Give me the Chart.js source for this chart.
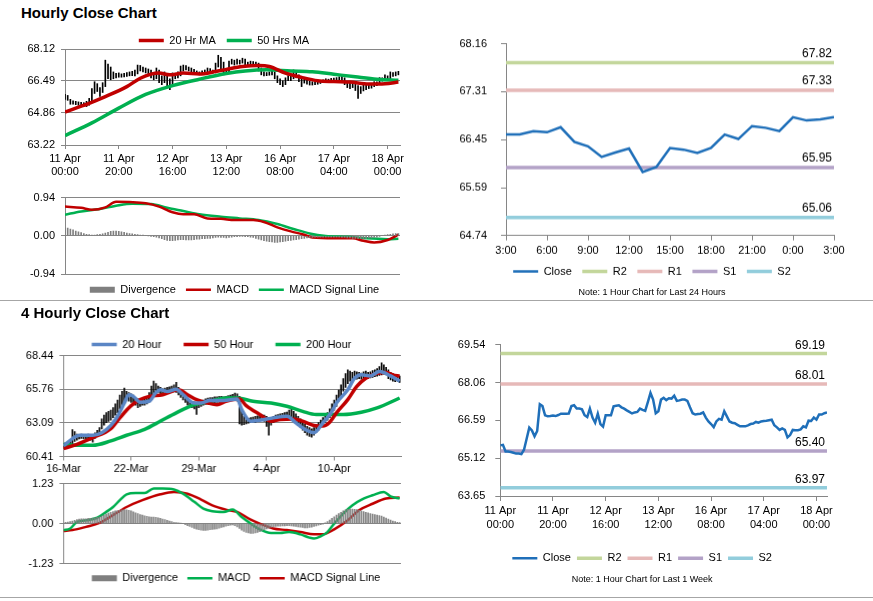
<!DOCTYPE html>
<html><head><meta charset="utf-8">
<script src="https://cdn.jsdelivr.net/npm/chart.js@4.4.1/dist/chart.umd.min.js"></script>
<style>
html,body{margin:0;padding:0;background:#fff;}
body{width:873px;height:601px;position:relative;overflow:hidden;font-family:'Liberation Sans',Arial,sans-serif;}
.box{position:absolute;}
.title{position:absolute;left:21px;font-weight:bold;font-size:15px;line-height:18px;color:#000;z-index:5;white-space:nowrap;}
.sep{position:absolute;left:0;width:873px;height:1px;background:#a6a6a6;}
</style></head><body>
<div class="title" style="top:4px">Hourly Close Chart</div>
<div class="title" style="top:304px">4 Hourly Close Chart</div>
<div class="sep" style="top:300px"></div>
<div class="sep" style="top:597px"></div>
<div class="box" style="left:0;top:24px;width:421px;height:160px"><canvas id="cA"></canvas></div>
<div class="box" style="left:0;top:185.1px;width:442px;height:120.2px"><canvas id="cB"></canvas></div>
<div class="box" style="left:430px;top:23.4px;width:419px;height:273.9px"><canvas id="cC"></canvas></div>
<div class="box" style="left:0;top:316.5px;width:416.7px;height:161.5px"><canvas id="cE"></canvas></div>
<div class="box" style="left:0;top:470.7px;width:445.7px;height:122.8px"><canvas id="cD"></canvas></div>
<div class="box" style="left:430px;top:327.7px;width:443px;height:256.6px"><canvas id="cF"></canvas></div>
<script>
// ---------------- DATA ----------------
const HOURLY_TICK_IDX = [0, 20, 40, 60, 80, 100, 120];
const HOURLY_TICK_LABELS = [['11 Apr','00:00'],['11 Apr','20:00'],['12 Apr','16:00'],['13 Apr','12:00'],['16 Apr','08:00'],['17 Apr','04:00'],['18 Apr','00:00']];
const H4_TICK_IDX = [0, 30, 60, 90, 120];
const H4_TICK_LABELS = ['16-Mar','22-Mar','29-Mar','4-Apr','10-Apr'];
const DAY_HOURS = ['3:00','4:00','5:00','6:00','7:00','8:00','9:00','10:00','11:00','12:00','13:00','14:00','15:00','16:00','17:00','18:00','19:00','20:00','21:00','22:00','23:00','0:00','1:00','2:00','3:00'];
const DAY_TICK_IDX = [0, 3, 6, 9, 12, 15, 18, 21, 24];

const H_PRICE_TICKS = [63.22, 64.86, 66.49, 68.12];
const H_MACD_TICKS = [-0.94, 0, 0.94];
const DAY_TICKS = [64.74, 65.59, 66.45, 67.31, 68.16];
const H4_PRICE_TICKS = [60.41, 63.09, 65.76, 68.44];
const H4_MACD_TICKS = [-1.23, 0, 1.23];
const WEEK_TICKS = [63.65, 65.12, 66.59, 68.06, 69.54];

const LEVEL_NAMES = ['R2', 'R1', 'S1', 'S2'];
const DAY_LEVELS = [67.82, 67.33, 65.95, 65.06];
const WEEK_LEVELS = [69.19, 68.01, 65.40, 63.97];

// hourly close, last week (index = hour bar)
const HOURLY_CLOSE = [65.62,65.64,65.38,65.38,65.36,65.33,65.30,65.30,65.28,65.45,
65.88,66.31,66.20,65.97,66.18,67.22,67.15,66.79,66.75,66.76,
66.78,66.76,66.80,66.85,66.85,66.85,66.86,67.15,67.18,67.05,
67.05,67.02,66.79,66.72,67.05,66.70,66.50,66.85,66.45,66.35,
66.79,66.79,66.79,67.14,67.16,67.18,67.10,67.05,66.98,66.92,
66.86,66.90,66.92,67.05,67.00,66.96,67.30,67.66,67.40,66.87,
66.95,67.40,67.47,67.38,67.45,67.44,67.55,67.35,67.37,67.40,
67.40,67.35,67.10,66.87,66.82,66.84,66.85,66.90,66.70,66.55,
66.45,66.33,66.55,66.65,66.62,66.95,66.75,66.55,66.50,66.48,
66.42,66.36,66.36,66.36,66.40,66.45,66.47,66.53,66.50,66.55,
66.57,66.58,66.60,66.62,66.40,66.32,66.22,66.28,66.22,65.93,
66.02,66.22,66.21,66.21,66.24,66.36,66.32,66.58,66.57,66.70,
66.62,66.82,66.82,66.87,66.90];
const HOURLY_HIGH = [65.80,65.75,65.55,65.48,65.45,65.42,65.40,65.38,65.45,65.60,
66.10,66.45,66.35,66.15,66.40,67.55,67.35,67.20,66.95,66.88,
66.90,66.85,66.88,66.92,66.95,66.98,67.05,67.30,67.28,67.20,
67.15,67.10,67.05,66.90,67.15,67.05,66.75,66.95,66.85,66.60,
66.90,66.88,66.95,67.25,67.30,67.28,67.20,67.15,67.08,67.00,
66.95,67.00,67.05,67.15,67.12,67.05,67.40,67.80,67.70,67.45,
67.10,67.50,67.60,67.55,67.60,67.55,67.65,67.60,67.45,67.50,
67.48,67.45,67.40,67.15,66.95,66.92,66.95,67.00,66.95,66.75,
66.60,66.50,66.65,66.75,66.72,67.05,66.98,66.80,66.62,66.58,
66.52,66.48,66.45,66.45,66.48,66.52,66.55,66.60,66.58,66.62,
66.64,66.66,66.70,66.72,66.65,66.45,66.38,66.36,66.32,66.25,
66.20,66.30,66.30,66.30,66.35,66.45,66.45,66.66,66.65,66.80,
66.75,66.95,66.92,66.95,66.98];
const HOURLY_LOW = [65.55,65.50,65.30,65.30,65.28,65.25,65.22,65.20,65.18,65.25,
65.45,65.85,65.95,65.70,65.90,66.20,66.60,66.55,66.60,66.65,
66.68,66.68,66.70,66.72,66.75,66.76,66.75,66.85,67.00,66.95,
66.90,66.85,66.65,66.55,66.60,66.40,66.30,66.40,66.25,66.05,
66.30,66.60,66.65,66.75,67.00,67.05,67.00,66.95,66.90,66.85,
66.80,66.82,66.85,66.90,66.92,66.88,66.90,67.20,67.00,66.80,
66.85,66.95,67.35,67.30,67.35,67.35,67.40,67.30,67.28,67.30,
67.32,67.25,67.00,66.80,66.75,66.76,66.78,66.80,66.60,66.40,
66.30,66.20,66.30,66.50,66.50,66.60,66.65,66.45,66.20,66.38,
66.32,66.28,66.28,66.30,66.32,66.36,66.40,66.44,66.42,66.45,
66.48,66.50,66.50,66.48,66.30,66.15,66.10,66.15,66.00,65.60,
65.85,65.98,66.05,66.10,66.12,66.20,66.25,66.30,66.48,66.52,
66.55,66.60,66.72,66.75,66.80];
// moving averages read as [bar index, value]
const HOURLY_MA20 = [[0,64.9],[5,65.15],[9,65.35],[15,65.69],[23,66.2],[28,66.63],[32,66.84],[35,66.89],[39,66.8],[44,66.89],[50,66.84],[56,66.97],[60,67.08],[66,67.23],[72,67.28],[76,67.23],[82,66.89],[88,66.67],[94,66.5],[100,66.46],[106,66.43],[113,66.33],[119,66.35],[124,66.43]];
const HOURLY_MA50 = [[0,63.7],[10,64.35],[20,65.1],[30,65.8],[40,66.25],[50,66.58],[60,66.87],[67,67.0],[75,67.06],[84,67.0],[92,66.96],[100,66.83],[108,66.7],[116,66.58],[124,66.52]];
const HOURLY_MACD = [[0,0.72],[6,0.69],[10,0.64],[15,0.70],[19,0.84],[24,0.83],[30,0.80],[35,0.72],[40,0.58],[44,0.53],[48,0.53],[53,0.43],[58,0.42],[63,0.39],[70,0.39],[74,0.34],[79,0.21],[84,0.11],[89,0.03],[92,-0.04],[100,-0.06],[107,-0.06],[111,-0.12],[115,-0.16],[120,-0.10],[124,0.03]];
const HOURLY_SIGNAL = [[0,0.52],[6,0.60],[13,0.66],[19,0.74],[25,0.79],[32,0.78],[38,0.69],[44,0.61],[50,0.53],[58,0.47],[65,0.43],[72,0.39],[79,0.29],[85,0.17],[91,0.06],[97,0.0],[105,-0.02],[112,-0.06],[120,-0.08],[124,-0.07]];
const HOURLY_DIV = [0.20,0.19,0.17,0.15,0.12,0.10,0.08,0.06,0.04,0.03,
0.02,0.02,0.03,0.04,0.05,0.07,0.09,0.11,0.12,0.12,
0.11,0.10,0.09,0.07,0.06,0.05,0.04,0.03,0.02,0.02,
0.01,0.00,-0.01,-0.02,-0.03,-0.05,-0.07,-0.09,-0.11,-0.12,
-0.12,-0.11,-0.10,-0.09,-0.09,-0.10,-0.10,-0.10,-0.09,-0.08,
-0.08,-0.07,-0.07,-0.06,-0.06,-0.05,-0.04,-0.03,-0.04,-0.04,
-0.05,-0.04,-0.03,-0.02,-0.02,-0.01,-0.01,-0.02,-0.02,-0.03,
-0.04,-0.06,-0.08,-0.10,-0.12,-0.13,-0.14,-0.15,-0.16,-0.16,
-0.15,-0.14,-0.13,-0.12,-0.11,-0.10,-0.09,-0.08,-0.07,-0.06,
-0.05,-0.04,-0.04,-0.03,-0.03,-0.03,-0.03,-0.03,-0.03,-0.03,
-0.03,-0.03,-0.03,-0.04,-0.04,-0.05,-0.05,-0.06,-0.06,-0.07,
-0.07,-0.06,-0.06,-0.05,-0.05,-0.04,-0.03,-0.01,0.01,0.02,
0.03,0.04,0.05,0.06,0.06];

// last 24 hours close (3:00 .. 3:00)
const DAY_CLOSE = [66.54,66.54,66.60,66.58,66.67,66.41,66.33,66.14,66.22,66.29,65.87,65.96,66.30,66.27,66.21,66.30,66.54,66.46,66.69,66.66,66.60,66.85,66.79,66.81,66.85];

// 4 hourly bars
const H4_HIGH = [61.45,61.50,61.55,61.75,62.55,62.40,62.20,62.15,62.20,62.10,
62.15,62.20,62.10,62.05,62.30,62.50,62.70,63.40,63.70,63.90,
64.00,64.10,64.30,64.60,64.90,65.30,65.60,65.85,65.60,65.50,
65.40,65.30,65.10,65.00,64.90,65.00,65.10,65.20,65.50,66.00,
66.40,66.20,66.00,65.90,65.80,65.85,65.90,65.95,66.00,66.10,
66.30,65.90,65.60,65.40,65.20,65.00,64.90,64.80,64.75,64.70,
64.80,64.85,64.90,65.00,65.05,65.10,65.10,65.15,65.15,65.20,
65.20,65.15,65.20,65.25,65.30,65.35,65.45,65.40,65.20,64.00,
63.60,63.50,63.45,63.50,63.55,63.60,63.65,63.70,63.75,63.70,
63.60,63.40,63.50,63.60,63.70,63.75,63.80,63.85,63.90,63.95,
64.10,64.20,64.00,63.80,63.60,63.40,63.20,63.00,62.80,62.70,
62.60,62.70,62.90,63.10,63.30,63.50,63.70,63.90,64.20,64.60,
64.90,65.30,65.70,66.10,66.60,67.00,67.30,67.20,67.10,67.20,
67.15,67.10,67.05,67.15,67.20,67.10,67.15,67.25,67.30,67.40,
67.55,67.85,67.70,67.50,67.30,67.10,67.00,66.90,66.85,66.80];
const H4_LOW = [61.05,61.10,61.15,61.20,61.40,61.60,61.70,61.80,61.85,61.80,
61.75,61.80,61.70,61.55,61.85,62.00,62.10,62.60,62.90,63.10,
63.20,63.30,63.50,63.70,63.90,64.20,64.40,64.70,64.90,64.80,
64.70,64.60,64.50,64.30,64.40,64.50,64.50,64.60,64.80,65.10,
65.30,65.40,65.50,65.40,65.30,65.35,65.40,65.45,65.50,65.55,
65.50,65.30,65.10,64.90,64.70,64.50,64.40,64.30,64.20,63.75,
64.30,64.40,64.50,64.55,64.60,64.65,64.60,64.65,64.70,64.70,
64.75,64.70,64.75,64.80,64.85,64.90,64.85,64.80,63.00,62.90,
62.95,63.00,63.05,63.10,63.15,63.10,63.20,63.20,63.30,63.20,
62.80,62.10,62.90,63.10,63.20,63.25,63.30,63.35,63.40,63.35,
63.40,63.45,63.30,63.10,62.90,62.70,62.50,62.30,62.10,62.00,
61.95,62.10,62.30,62.50,62.70,62.90,63.10,63.30,63.50,63.80,
64.10,64.40,64.80,65.20,65.60,65.90,66.20,66.40,66.50,66.60,
66.55,66.60,66.55,66.60,66.65,66.60,66.65,66.70,66.75,66.80,
66.85,66.90,66.95,66.90,66.60,66.50,66.40,66.35,66.40,66.30];
const H4_MA20 = [[0,61.25],[4,61.83],[7,62.1],[13,62.1],[17,62.3],[21,62.88],[24,63.61],[27,64.66],[29,65.32],[31,65.19],[34,64.72],[38,64.8],[41,65.5],[43,65.71],[46,65.58],[50,65.76],[53,65.32],[58,64.66],[61,64.66],[65,64.87],[71,64.87],[77,64.98],[79,64.14],[83,63.22],[87,63.3],[93,63.48],[99,63.61],[103,63.09],[107,62.57],[111,62.3],[115,63.09],[119,64.0],[121,64.66],[126,65.71],[129,66.63],[132,66.9],[136,66.82],[140,67.16],[145,66.82],[149,66.4]];
const H4_MA50 = [[0,61.04],[6,61.38],[13,61.91],[21,62.62],[25,63.48],[30,64.45],[34,64.93],[38,65.19],[44,65.32],[51,65.71],[55,65.32],[59,64.93],[64,64.66],[68,64.53],[72,64.8],[78,64.98],[81,64.45],[87,63.75],[92,63.22],[96,63.35],[102,63.4],[106,63.22],[111,62.88],[115,62.83],[118,63.14],[121,63.88],[126,64.93],[130,65.98],[134,66.63],[139,67.03],[143,67.08],[146,66.9],[149,66.8]];
const H4_MA200 = [[0,61.38],[6,61.3],[13,61.3],[21,61.65],[28,62.1],[36,62.57],[43,63.22],[50,63.88],[58,64.53],[65,64.8],[72,65.06],[77,65.06],[84,64.8],[92,64.66],[99,64.4],[106,64.0],[112,63.75],[117,63.75],[124,63.75],[132,63.93],[139,64.27],[149,65.06]];
const H4_MACD = [[0,-0.2],[3,-0.15],[6,0.05],[10,0.1],[15,0.18],[19,0.36],[22,0.51],[25,0.72],[28,0.9],[32,0.94],[36,0.94],[40,1.08],[44,1.08],[49,1.05],[53,0.92],[58,0.67],[62,0.46],[66,0.38],[71,0.36],[75,0.43],[79,0.2],[83,0.0],[87,-0.18],[92,-0.29],[96,-0.29],[100,-0.26],[105,-0.33],[109,-0.43],[111,-0.46],[114,-0.39],[117,-0.26],[120,0.0],[124,0.31],[128,0.56],[133,0.77],[137,0.87],[142,0.97],[145,0.84],[149,0.77]];
const H4_SIGNAL = [[0,-0.23],[4,-0.2],[10,-0.1],[16,0.02],[22,0.26],[28,0.51],[35,0.72],[43,0.9],[49,0.97],[55,0.92],[61,0.74],[66,0.56],[72,0.43],[77,0.36],[83,0.12],[87,0.0],[93,-0.15],[99,-0.2],[105,-0.26],[111,-0.33],[115,-0.33],[120,-0.18],[126,0.1],[131,0.41],[137,0.61],[143,0.77],[149,0.8]];
const H4_DIV = [0.03,0.04,0.05,0.06,0.08,0.10,0.12,0.14,0.15,0.15,
0.15,0.16,0.16,0.17,0.18,0.19,0.21,0.23,0.26,0.29,
0.32,0.35,0.37,0.39,0.40,0.41,0.42,0.43,0.42,0.41,
0.39,0.36,0.33,0.31,0.28,0.26,0.24,0.22,0.21,0.20,
0.20,0.19,0.18,0.16,0.14,0.12,0.10,0.08,0.06,0.04,
0.03,0.02,0.01,0.00,-0.03,-0.06,-0.09,-0.12,-0.15,-0.17,
-0.19,-0.20,-0.21,-0.21,-0.20,-0.19,-0.18,-0.17,-0.16,-0.14,
-0.12,-0.10,-0.08,-0.06,-0.05,-0.04,-0.06,-0.10,-0.15,-0.20,
-0.24,-0.27,-0.29,-0.30,-0.30,-0.29,-0.27,-0.25,-0.22,-0.19,
-0.16,-0.14,-0.12,-0.10,-0.09,-0.08,-0.08,-0.07,-0.07,-0.06,
-0.06,-0.07,-0.08,-0.09,-0.10,-0.11,-0.12,-0.13,-0.13,-0.12,
-0.11,-0.09,-0.07,-0.05,-0.03,-0.01,0.02,0.06,0.11,0.16,
0.21,0.26,0.31,0.35,0.39,0.42,0.44,0.45,0.45,0.44,
0.43,0.41,0.39,0.37,0.35,0.33,0.31,0.29,0.28,0.26,
0.25,0.23,0.20,0.17,0.14,0.11,0.08,0.06,0.04,0.03];

// ---------------- STYLE / HELPERS ----------------
const FAM = "'Liberation Sans', Arial, sans-serif";
Chart.defaults.font.family = FAM;
Chart.defaults.font.size = 11;
Chart.defaults.color = '#000';
const GRID = '#868686';
const RED = '#c00000', GREEN = '#00b050', BLUE4 = '#5b86c5', CLOSE = '#1f6fb9', DIVC = '#7f7f7f';
const LEVEL_COLORS = ['#c3d69b', '#e6b9b8', '#b3a2c7', '#92cddc'];

const pairs = arr => arr.map(p => ({ x: p[0], y: p[1] }));
const byIndex = arr => arr.map((v, i) => ({ x: i, y: v }));
const hiLo = (hi, lo) => hi.map((h, i) => ({ x: i, y: [lo[i], h] }));

function lineDs(label, data, color, width, smooth) {
  return { type: 'line', label, data, borderColor: color, backgroundColor: color, borderWidth: width,
    pointRadius: 0, pointHoverRadius: 0, fill: false, tension: smooth ? 0.4 : 0,
    cubicInterpolationMode: smooth ? 'monotone' : 'default' };
}
function barDs(label, data, color, noLegend) {
  return { type: 'bar', label, data, backgroundColor: color, borderWidth: 0, barThickness: 1, grouped: false, noLegend: !!noLegend };
}
function legend(pos, pad, maxH) {
  return { display: true, position: pos, maxHeight: maxH,
    labels: { usePointStyle: true, pointStyleWidth: 25, boxHeight: 6, padding: pad, color: '#000', font: { size: 11, family: FAM },
      generateLabels(chart) {
        return chart.data.datasets.map((ds, i) => ({ ds, i })).filter(o => !o.ds.noLegend).map(({ ds, i }) => ({
          text: ds.label, datasetIndex: i, hidden: false, fontColor: '#000', rotation: 0,
          fillStyle: ds.type === 'bar' ? ds.backgroundColor : ds.borderColor,
          strokeStyle: ds.type === 'bar' ? ds.backgroundColor : ds.borderColor,
          lineWidth: ds.type === 'bar' ? 0 : ds.borderWidth,
          pointStyle: ds.type === 'bar' ? 'rect' : 'line'
        }));
      } } };
}
function yAxis(ticks, w, tl, pad, gridOn) {
  return { type: 'linear', position: 'left', min: ticks[0], max: ticks[ticks.length - 1],
    afterBuildTicks: s => { s.ticks = ticks.map(v => ({ value: v })); },
    afterFit: s => { s.width = w; },
    ticks: { callback: v => Number(v).toFixed(2), padding: pad, color: '#000', font: { size: 11 } },
    grid: { color: GRID, lineWidth: 1, drawOnChartArea: gridOn, drawTicks: true, tickLength: tl },
    border: { color: GRID, width: 1 } };
}
// invisible right-hand spacer so the legend centres like the original
function spacer(w) {
  return { type: 'linear', position: 'right', display: true, afterFit: s => { s.width = w; },
    ticks: { display: false }, grid: { display: false }, border: { display: false } };
}
function xAxis(max, tickIdx, labels, h, tl, pad, show) {
  return { type: 'linear', min: 0, max, offset: false, display: show,
    afterBuildTicks: s => { s.ticks = tickIdx.map(v => ({ value: v })); },
    afterFit: s => { s.height = h; },
    ticks: { autoSkip: false, maxRotation: 0, minRotation: 0, padding: pad, color: '#000', font: { size: 11 },
      callback: (v, i) => labels[i] },
    grid: { color: GRID, lineWidth: 1, drawOnChartArea: false, drawTicks: true, tickLength: tl, offset: false },
    border: { color: GRID, width: 1 } };
}
const levelLabels = { id: 'levelLabels',
  afterDatasetsDraw(chart, args, opts) {
    const { ctx, chartArea, scales } = chart;
    ctx.save();
    ctx.font = '12px ' + FAM; ctx.fillStyle = '#000'; ctx.textAlign = 'right'; ctx.textBaseline = 'middle';
    chart.data.datasets.forEach(ds => {
      if (ds.levelValue === undefined) return;
      const py = scales.y.getPixelForValue(ds.levelValue);
      ctx.fillText(ds.levelValue.toFixed(2), chartArea.right - 2, py - opts.dy);
    });
    ctx.restore();
  } };
function base(padding, plugins, scales) {
  return { responsive: true, maintainAspectRatio: false, animation: false, events: [],
    layout: { padding }, plugins: Object.assign({ tooltip: { enabled: false } }, plugins), scales };
}
function levelSets(levels, lastIdx) {
  return levels.map((v, k) => Object.assign(lineDs(LEVEL_NAMES[k], [{ x: 0, y: v }, { x: lastIdx, y: v }], LEVEL_COLORS[k], 3.5, false), { levelValue: v }));
}

// ---------------- A: hourly price ----------------
new Chart(document.getElementById('cA'), {
  type: 'line',
  data: { datasets: [
    lineDs('20 Hr MA', pairs(HOURLY_MA20), RED, 3.5, true),
    lineDs('50 Hrs MA', pairs(HOURLY_MA50), GREEN, 3.5, true),
    barDs('High-Low', hiLo(HOURLY_HIGH, HOURLY_LOW), '#000', true)
  ] },
  options: base({ left: 27, right: 0, top: 0, bottom: 0 }, { legend: legend('top', 11, 25) }, {
    x: xAxis(124.6, HOURLY_TICK_IDX, HOURLY_TICK_LABELS, 39, 4, 3, true),
    y: yAxis(H_PRICE_TICKS, 38, 4, 6, true),
    yR: spacer(21)
  })
});

// ---------------- B: hourly MACD ----------------
new Chart(document.getElementById('cB'), {
  type: 'line',
  data: { datasets: [
    barDs('Divergence', byIndex(HOURLY_DIV), DIVC, false),
    lineDs('MACD', pairs(HOURLY_MACD), RED, 2.5, true),
    lineDs('MACD Signal Line', pairs(HOURLY_SIGNAL), GREEN, 2.5, true)
  ] },
  options: base({ left: 27, right: 0, top: 0, bottom: 0 }, { legend: legend('bottom', 10) }, {
    x: xAxis(124.6, HOURLY_TICK_IDX, HOURLY_TICK_LABELS, 0, 0, 0, false),
    y: yAxis(H_MACD_TICKS, 38, 4, 6, true),
    yR: spacer(42)
  })
});

// ---------------- C: last 24 hours ----------------
new Chart(document.getElementById('cC'), {
  type: 'line',
  data: { datasets: [lineDs('Close', byIndex(DAY_CLOSE), CLOSE, 2.5, false)].concat(levelSets(DAY_LEVELS, DAY_HOURS.length - 1)) },
  plugins: [levelLabels],
  options: base({ left: 25, right: 0, top: 0, bottom: 0 }, {
    legend: legend('bottom', 10.5),
    subtitle: { display: true, position: 'bottom', text: 'Note: 1 Hour Chart for Last 24 Hours', color: '#000', font: { size: 9, family: FAM }, padding: { top: 0, bottom: 0 } },
    levelLabels: { dy: 9 }
  }, {
    x: xAxis(DAY_HOURS.length - 1, DAY_TICK_IDX, DAY_TICK_IDX.map(i => DAY_HOURS[i]), 20, 5, 4, true),
    y: yAxis(DAY_TICKS, 51, 5, 14, false),
    yR: spacer(15)
  })
});

// ---------------- E: 4 hourly price ----------------
new Chart(document.getElementById('cE'), {
  type: 'line',
  data: { datasets: [
    lineDs('20 Hour', pairs(H4_MA20), BLUE4, 3.5, true),
    lineDs('50 Hour', pairs(H4_MA50), RED, 3.5, true),
    lineDs('200 Hour', pairs(H4_MA200), GREEN, 3.5, true),
    barDs('High-Low', hiLo(H4_HIGH, H4_LOW), '#000', true)
  ] },
  options: base({ left: 25.3, right: 0, top: 0, bottom: 0 }, { legend: legend('top', 22, 38.5) }, {
    x: xAxis(149.6, H4_TICK_IDX, H4_TICK_LABELS, 22, 4, 2, true),
    y: yAxis(H4_PRICE_TICKS, 38, 4, 6, true),
    yR: spacer(16.7)
  })
});

// ---------------- D: 4 hourly MACD ----------------
new Chart(document.getElementById('cD'), {
  type: 'line',
  data: { datasets: [
    barDs('Divergence', byIndex(H4_DIV), DIVC, false),
    lineDs('MACD', pairs(H4_MACD), GREEN, 2.5, true),
    lineDs('MACD Signal Line', pairs(H4_SIGNAL), RED, 2.5, true)
  ] },
  options: base({ left: 25.3, right: 0, top: 0, bottom: 0 }, { legend: legend('bottom', 9.2) }, {
    x: xAxis(149.6, H4_TICK_IDX, H4_TICK_LABELS, 0, 0, 0, false),
    y: yAxis(H4_MACD_TICKS, 38, 4, 6, true),
    yR: spacer(45.7)
  })
});

// ---------------- F: last week hourly ----------------
new Chart(document.getElementById('cF'), {
  type: 'line',
  data: { datasets: [lineDs('Close', byIndex(HOURLY_CLOSE), CLOSE, 2.5, false)].concat(levelSets(WEEK_LEVELS, HOURLY_CLOSE.length - 1)) },
  plugins: [levelLabels],
  options: base({ left: 27.3, right: 46, top: 0, bottom: 0 }, {
    legend: legend('bottom', 6),
    subtitle: { display: true, position: 'bottom', text: 'Note: 1 Hour Chart for Last 1 Week', color: '#000', font: { size: 9, family: FAM }, padding: { top: 0, bottom: 0 } },
    levelLabels: { dy: 8 }
  }, {
    x: xAxis(HOURLY_CLOSE.length - 1, HOURLY_TICK_IDX, HOURLY_TICK_LABELS, 50.8, 5, 3.7, true),
    y: yAxis(WEEK_TICKS, 43, 5, 10, false)
  })
});
</script>
</body></html>
